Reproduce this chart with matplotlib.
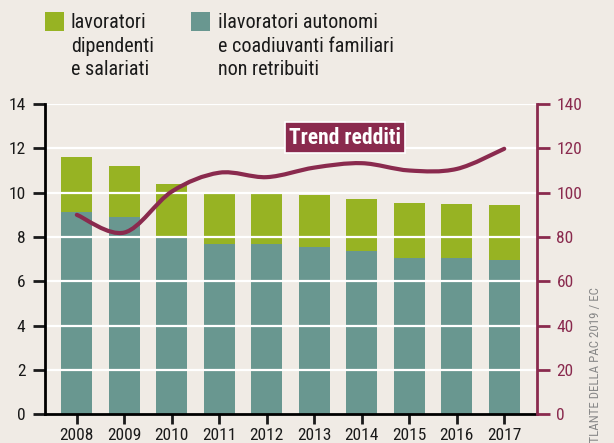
import numpy as np
import matplotlib.pyplot as plt
from matplotlib.path import Path
from matplotlib.patches import PathPatch, Rectangle

# data
anni = ["2008", "2009", "2010", "2011", "2012", "2013", "2014", "2015", "2016", "2017"]
autonomi = [9.13, 8.88, 8.02, 7.70, 7.70, 7.55, 7.37, 7.07, 7.07, 6.97]
totale = [11.62, 11.21, 10.38, 9.95, 9.95, 9.90, 9.72, 9.54, 9.49, 9.45]
dipendenti = [t - a for t, a in zip(totale, autonomi)]
redditi = [90, 82, 100.5, 109, 107, 111.3, 113.3, 110, 110.7, 119.8]

BG = "#f0ebe5"
VERDE = "#97b323"
TEAL = "#699790"
BORDO = "#8a2a4e"
plt.rcParams["font.family"] = ["Roboto Condensed", "DejaVu Sans"]

fig = plt.figure(figsize=(6.14, 4.43), dpi=100, facecolor=BG)
ax = fig.add_axes([45 / 614, 1 - 414.3 / 443, (537 - 45) / 614, (414.3 - 104) / 443])
ax.set_facecolor(BG)
x = np.arange(len(anni))

ax.bar(x, autonomi, width=0.65, color=TEAL, zorder=1)
ax.bar(x, dipendenti, bottom=autonomi, width=0.65, color=VERDE, zorder=1)

ax.set_xlim(-0.67, 9.69)
ax.set_ylim(0, 14)
ax.set_yticks(range(0, 15, 2))
ax.set_xticks(x)
ax.set_xticklabels(anni)
for yy in range(2, 15, 2):
    ax.axhline(yy, color="white", lw=1.6, zorder=2)

for s in ["top", "right"]:
    ax.spines[s].set_visible(False)
ax.spines["left"].set_linewidth(2)
ax.spines["bottom"].set_linewidth(2)
ax.spines["bottom"].set_zorder(3)
ax.tick_params(axis="y", direction="out", length=9, width=2, labelsize=12.5, pad=5, colors="#1a1a1a")
ax.tick_params(axis="x", direction="out", length=7, width=2, labelsize=12.5, pad=3, colors="#1a1a1a")

ax2 = ax.twinx()
ax2.set_ylim(0, 140)
ax2.set_yticks(range(0, 141, 20))
for s in ["top", "left", "bottom"]:
    ax2.spines[s].set_visible(False)
ax2.spines["right"].set_color(BORDO)
ax2.spines["right"].set_linewidth(2)
ax2.tick_params(axis="y", direction="out", length=9, width=2, labelsize=12.5, pad=5,
                color=BORDO, labelcolor=BORDO)

# smooth trend line (Catmull-Rom through the points, drawn as bezier path)
pts = np.column_stack([x, redditi]).astype(float)
ext = np.vstack([pts[0], pts, pts[-1]])
verts = [tuple(pts[0])]
codes = [Path.MOVETO]
for i in range(len(pts) - 1):
    p0, p1, p2, p3 = ext[i], ext[i + 1], ext[i + 2], ext[i + 3]
    c1 = p1 + (p2 - p0) / 6
    c2 = p2 - (p3 - p1) / 6
    verts += [tuple(c1), tuple(c2), tuple(p2)]
    codes += [Path.CURVE4] * 3
ax2.add_patch(PathPatch(Path(verts, codes), facecolor="none", edgecolor=BORDO,
                        lw=3, capstyle="round", zorder=5))

ax2.text(5.65, 124.8, "Trend redditi", color="white", fontsize=15.5, fontweight="bold",
         ha="center", va="center", zorder=6,
         bbox=dict(boxstyle="square,pad=0.2", facecolor=BORDO, edgecolor="white", lw=1.2))

# legend
fig.patches.append(Rectangle((45 / 614, 1 - 31 / 443), 19 / 614, 19 / 443,
                             transform=fig.transFigure, facecolor=VERDE, edgecolor="none"))
fig.patches.append(Rectangle((191 / 614, 1 - 31 / 443), 19 / 614, 19 / 443,
                             transform=fig.transFigure, facecolor=TEAL, edgecolor="none"))
fig.text(71 / 614, 1 - 13 / 443, "lavoratori\ndipendenti\ne salariati", fontsize=14.5,
         color="#1a1a1a", ha="left", va="top", linespacing=1.3)
fig.text(218 / 614, 1 - 13 / 443, "ilavoratori autonomi\ne coadiuvanti familiari\nnon retribuiti",
         fontsize=14.5, color="#1a1a1a", ha="left", va="top", linespacing=1.3)

# source credit, cut at the bottom edge as in the original
fig.text(596 / 614, -0.016, "ATLANTE DELLA PAC 2019 / EC", fontsize=9.3, color="#888888",
         rotation=90, rotation_mode="anchor", ha="left", va="center")

fig.savefig("out.png", dpi=100, facecolor=BG)
